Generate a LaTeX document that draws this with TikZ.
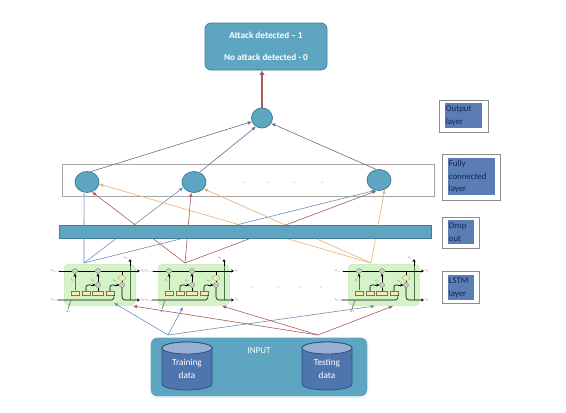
\documentclass[tikz,border=0pt]{standalone}
\usepackage{fontspec}
\setmainfont{Carlito}
\usetikzlibrary{arrows.meta,shapes.geometric,shadows}
\definecolor{teal1}{HTML}{5DA5C0}
\definecolor{teal2}{HTML}{3F7F98}
\definecolor{lab}{HTML}{5B7DB5}
\definecolor{labtxt}{HTML}{14254F}
\definecolor{cylf}{HTML}{4F75AF}
\definecolor{cyle}{HTML}{2F5080}
\definecolor{cylt}{HTML}{98AED2}
\definecolor{cellg}{HTML}{D4F4C8}
\definecolor{cellb}{HTML}{C4E6B6}
\definecolor{yel}{HTML}{F6EBB0}
\definecolor{cbl}{HTML}{6C90BA}
\definecolor{cre}{HTML}{A9595C}
\definecolor{cor}{HTML}{E9AE6A}
\definecolor{cpu}{HTML}{6F6794}
\definecolor{lbl}{HTML}{A9BAD3}
\tikzset{
  conn/.style={line width=.6pt,-{Latex[length=4pt,width=3.6pt]}},
  blueconn/.style={conn,draw=cbl},
  redconn/.style={conn,draw=cre},
  orconn/.style={conn,draw=cor},
  purconn/.style={conn,draw=cpu},
  neuron/.style={ellipse,draw=teal2,fill=teal1,line width=.8pt,minimum width=24pt,minimum height=21pt,inner sep=0pt},
  tagouter/.style={draw=black!45,line width=.5pt,fill=white,inner sep=0pt},
  tagblue/.style={fill=lab,text=labtxt,font=\fontsize{8.8}{12.9}\selectfont,align=left,inner ysep=0pt,inner xsep=.7pt,anchor=north west},
  ldot/.style={circle,fill=black!60,inner sep=0pt,minimum size=1pt},
  cellbox/.style={draw=cellb,fill=cellg,rounded corners=4pt,line width=.5pt,minimum width=71pt,minimum height=41pt,inner sep=0pt},
  gate/.style={circle,draw=black!55,fill=black!20,line width=.35pt,minimum size=5pt,inner sep=0pt},
  ybox/.style={draw=black!50!yel,fill=yel,line width=.3pt,minimum height=4.4pt,inner sep=0pt},
  tinyt/.style={scale=.5,font=\tiny,text=black!80,inner sep=0pt},
  blk/.style={line width=.6pt,black},
  blka/.style={blk,-{Stealth[length=3pt,width=3pt]}},
  gry/.style={line width=.9pt,black!60!green!40!gray},
  lstm/.pic={
    \node[cellbox,anchor=north west] (-box) at (0,0) {};
    \draw[gry] (66,36) -- (66,2);
    \draw[gry] (11,26) -- (11,12);
    \draw[gry] (34,26) -- (34,24);
    \draw[blk,rounded corners=2pt] (22,27) -- (22,21) -- (27,21);
    \draw[blk,rounded corners=2pt] (46,27) -- (46,21) -- (50,21);
    \node[gate] (-g1) at (11,7) {};
    \node[gate] (-g2) at (34,7) {};
    \node[gate] (-g3) at (34,21) {};
    \node[gate] (-g4) at (58,21) {};
    \node[ybox,minimum width=8pt,draw=black!40,fill=yel,ellipse,minimum height=5pt] (-t) at (58,14) {};
    \node[ybox,minimum width=8pt] (-y1) at (11,29) {};
    \node[ybox,minimum width=8pt] (-y2) at (22,29) {};
    \node[ybox,minimum width=11pt] (-y3) at (34,29) {};
    \node[ybox,minimum width=8pt] (-y4) at (46,29) {};
    \draw[blka] (66,2) -- (66,-5);
    \draw[blka] (11,14) -- (-g1);
    \draw[blka] (-g3) -- (-g2);
    \draw[blka] (27,21) -- (-g3);
    \draw[blka] (50,21) -- (-g4);
    \draw[blk] (-g3) -- (-y3);
    \draw[blk] (-g4) -- (-t);
    \draw[blk] (-t) -- (58,7);
    \draw[blk] (-6,36) -- (48,36) to[out=0,in=-90] (50,31);
    \draw[blka] (-g4) -- (58,33) to[out=-90,in=180] (61,36) -- (76,36);
    \draw[blka] (-5,7) -- (-g1) -- (-g2) -- (76,7);
    \draw[line width=.8pt,black!50] (4,45) to[out=90,in=-90] (7,36);
    \node[tinyt] at (-9,7) {$C_{t-1}$};
    \node[tinyt] at (79,7) {$C_t$};
    \node[tinyt] at (-9,36) {$h_{t-1}$};
    \node[tinyt] at (79,36) {$h_t$};
    \node[tinyt] at (4,47.5) {$X_t$};
    \node[tinyt] at (62,-6) {$h_t$};
    \node[tinyt] at (8,16) {$f_t$};
    \node[tinyt] at (29,17) {$C_t$};
    \node[tinyt] at (51,17) {$h_t$};
  }
}
\begin{document}
\begin{tikzpicture}[x=1pt,y=-1pt]
\useasboundingbox (0,0) rectangle (566,413);
% output box
\node[draw=teal2,fill=teal1,rounded corners=6pt,line width=.8pt,minimum width=122pt,minimum height=47pt,inner sep=0pt,text=white,align=center,font=\fontsize{9.2}{21.5}\selectfont\bfseries] (res) at (266,46.5) {Attack detected – 1\\No attack detected - 0};
\node[neuron,minimum width=21pt,minimum height=20pt] (out) at (262,118) {};
% fully connected frame
\node[draw=black!35,line width=.7pt,minimum width=372pt,minimum height=32pt,inner sep=0pt] (fc) at (248,180) {};
\node[neuron] (n1) at (87,182) {};
\node[neuron] (n2) at (194,182) {};
\node[neuron] (n3) at (379,180) {};
\foreach \i/\x in {a/244,b/268,c/294,d/322} \node[ldot] (fd\i) at (\x,182) {};
% lstm
\pic (c1) at (64,264) {lstm};
\pic (c2) at (158,264) {lstm};
\pic (c3) at (348,264) {lstm};
\foreach \i/\x in {a/252,b/278,c/300,d/321} \node[ldot] (ld\i) at (\x,287) {};
% origins
\coordinate (o1) at (84,263);
\coordinate (o2) at (185,263);
\coordinate (o3) at (371,263);
\coordinate (ib) at (168,335);
\coordinate (ir) at (318,335);
\coordinate (tb1) at (114,303);
\coordinate (tb2) at (183,307);
\coordinate (tb3) at (375,306);
\coordinate (tr1) at (133,306);
\coordinate (tr2) at (222,306);
\coordinate (tr3) at (393,306);
% connectors lstm -> fc
\draw[blueconn,draw=lbl,line width=1.2pt] (o1) -- (n1.255);
\draw[blueconn] (o1) -- (n2.207);
\draw[blueconn] (o1) -- (n3.250);
\draw[redconn] (o2) -- (n1.297);
\draw[redconn] (o2) -- (n2.255);
\draw[redconn] (o2) -- (n3.258);
\draw[orconn] (o3) -- (n1.350);
\draw[orconn] (o3) -- (n2.325);
\draw[orconn] (o3) -- (n3.300);
% dropout bar
\node[draw=teal2,fill=teal1,line width=.7pt,minimum width=372pt,minimum height=13pt,inner sep=0pt] (drop) at (245,231.5) {};
% fc -> output
\draw[purconn] (n1.70) -- (out.200);
\draw[purconn] (n2.60) -- (out.235);
\draw[purconn] (n3.105) -- (out.-30);
\draw[conn,draw=cre,line width=2pt,-{Latex[length=4.5pt,width=5.5pt]}] (out) -- (res.south -| out);
% input to lstm
\draw[blueconn] (ib) -- (tb1);
\draw[blueconn] (ib) -- (tb2);
\draw[blueconn] (ib) -- (tb3);
\draw[redconn] (ir) -- (tr1);
\draw[redconn] (ir) -- (tr2);
\draw[redconn] (ir) -- (tr3);
% input box
\node[draw=white,fill=teal1,rounded corners=7pt,line width=1.2pt,minimum width=218pt,minimum height=60pt,inner sep=0pt,drop shadow={shadow xshift=0pt,shadow yshift=-1pt,opacity=.35}] (inp) at (259,367) {};
\node[text=white,font=\fontsize{9}{9}\selectfont] (inpt) at (259,351) {INPUT};
\foreach \n/\x/\t in {tr/187/Training,te/327/Testing}{
  \draw[draw=cyle,fill=cylf,line width=.8pt] (\x-25,348) -- (\x-25,384) arc[start angle=180,end angle=360,x radius=25,y radius=-6] -- (\x+25,348) arc[start angle=0,end angle=180,x radius=25,y radius=-6] -- cycle;
  \draw[draw=cyle,fill=cylt,line width=.8pt] (\x,348) ellipse[x radius=25,y radius=6];
  \node[text=white,align=center,font=\fontsize{9.2}{12.5}\selectfont] (\n) at (\x,369) {\t\\data};
}
% layer labels
\node[tagouter,minimum width=49pt,minimum height=32pt] (t1) at (463.5,116) {};
\node[tagblue,text width=35.6pt,minimum height=25pt] (t1b) at (445,103) {Output\\layer};
\node[tagouter,minimum width=58pt,minimum height=46pt] (t2) at (471,177.5) {};
\node[tagblue,text width=45.6pt,minimum height=37pt] (t2b) at (448,158) {Fully\\connected\\layer};
\node[tagouter,minimum width=37pt,minimum height=31pt] (t3) at (460.5,232.5) {};
\node[tagblue,text width=24.6pt,minimum height=24pt] (t3b) at (448,220) {Drop\\out};
\node[tagouter,minimum width=37pt,minimum height=32pt] (t4) at (460.5,287) {};
\node[tagblue,text width=24.6pt,minimum height=25pt] (t4b) at (448,275) {LSTM\\layer};
\end{tikzpicture}
\end{document}
